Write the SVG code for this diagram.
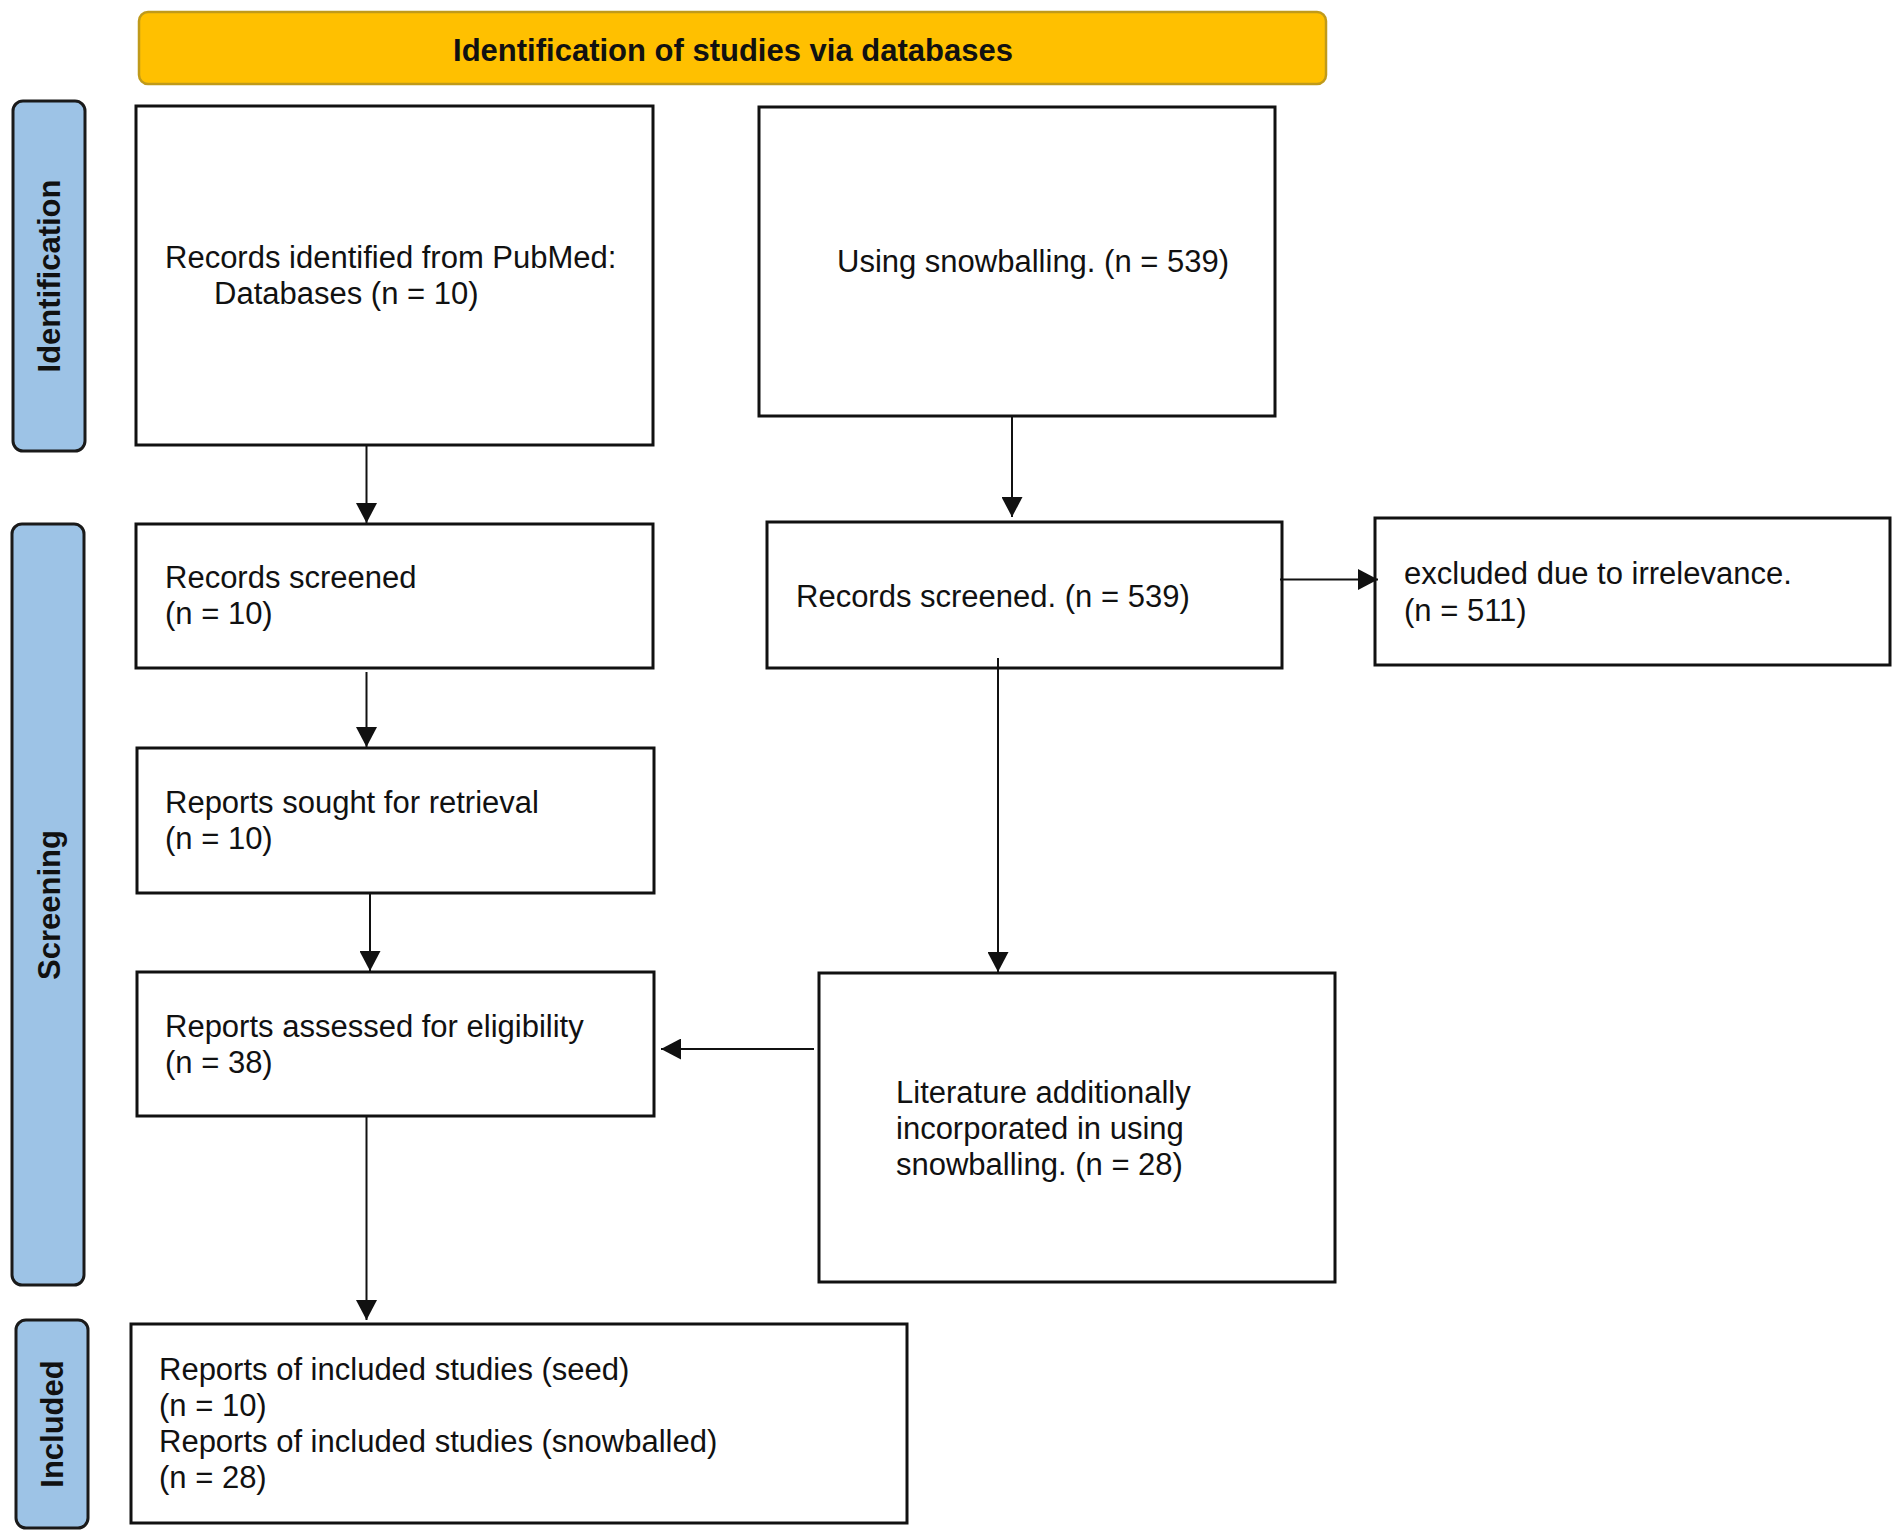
<svg xmlns="http://www.w3.org/2000/svg" width="1902" height="1540" viewBox="0 0 1902 1540">
<defs>
<style>
.box{fill:#fff;stroke:#111;stroke-width:3}
.side{fill:#9DC3E6;stroke:#1a1a1a;stroke-width:3}
.t{font-family:"Liberation Sans",Arial,sans-serif;font-size:31px;fill:#111}
.b{font-family:"Liberation Sans",Arial,sans-serif;font-size:31px;font-weight:bold;fill:#111}
.c{stroke:#111;stroke-width:2;fill:none}
</style>
<marker id="ah" markerUnits="userSpaceOnUse" markerWidth="20" markerHeight="21" refX="20" refY="10.5" orient="auto">
<path d="M0,0 L20,10.5 L0,21 z" fill="#111"/>
</marker>
</defs>
<rect width="1902" height="1540" fill="#fff"/>
<g id="banner">
<rect x="139" y="12" width="1187" height="72" rx="9" fill="#FFC000" stroke="#C09A1A" stroke-width="2.5"/>
<text class="b" x="733" y="61" text-anchor="middle">Identification of studies via databases</text>
</g>
<g id="side-identification">
<rect class="side" x="13" y="101" width="72" height="350" rx="10"/>
<text class="b" transform="translate(60,276) rotate(-90)" text-anchor="middle">Identification</text>
</g>
<g id="side-screening">
<rect class="side" x="12" y="524" width="72" height="761" rx="10"/>
<text class="b" transform="translate(60,905) rotate(-90)" text-anchor="middle">Screening</text>
</g>
<g id="side-included">
<rect class="side" x="16" y="1320" width="72" height="208" rx="10"/>
<text class="b" transform="translate(63,1424) rotate(-90)" text-anchor="middle">Included</text>
</g>
<g id="n-records-identified">
<rect class="box" x="136" y="106" width="517" height="339"/>
<text class="t" x="165" y="268">Records identified from PubMed:</text>
<text class="t" x="214" y="304">Databases (n = 10)</text>
</g>
<g id="n-snowballing">
<rect class="box" x="759" y="107" width="516" height="309"/>
<text class="t" x="837" y="272">Using snowballing. (n = 539)</text>
</g>
<g id="n-screened-539">
<rect class="box" x="767" y="522" width="515" height="146"/>
<text class="t" x="796" y="607">Records screened. (n = 539)</text>
</g>
<g id="n-excluded">
<rect class="box" x="1375" y="518" width="515" height="147"/>
<text class="t" x="1404" y="584">excluded due to irrelevance.</text>
<text class="t" x="1404" y="621">(n = 511)</text>
</g>
<g id="n-screened-10">
<rect class="box" x="136" y="524" width="517" height="144"/>
<text class="t" x="165" y="588">Records screened</text>
<text class="t" x="165" y="624">(n = 10)</text>
</g>
<g id="n-sought">
<rect class="box" x="137" y="748" width="517" height="145"/>
<text class="t" x="165" y="813">Reports sought for retrieval</text>
<text class="t" x="165" y="849">(n = 10)</text>
</g>
<g id="n-assessed">
<rect class="box" x="137" y="972" width="517" height="144"/>
<text class="t" x="165" y="1037">Reports assessed for eligibility</text>
<text class="t" x="165" y="1073">(n = 38)</text>
</g>
<g id="n-literature">
<rect class="box" x="819" y="973" width="516" height="309"/>
<text class="t" x="896" y="1103">Literature additionally</text>
<text class="t" x="896" y="1139">incorporated in using</text>
<text class="t" x="896" y="1175">snowballing. (n = 28)</text>
</g>
<g id="n-included">
<rect class="box" x="131" y="1324" width="776" height="199"/>
<text class="t" x="159" y="1380">Reports of included studies (seed)</text>
<text class="t" x="159" y="1416">(n = 10)</text>
<text class="t" x="159" y="1452">Reports of included studies (snowballed)</text>
<text class="t" x="159" y="1488">(n = 28)</text>
</g>
<g id="connectors">
<line class="c" x1="366.5" y1="446" x2="366.5" y2="523" marker-end="url(#ah)"/>
<line class="c" x1="366.5" y1="672" x2="366.5" y2="747" marker-end="url(#ah)"/>
<line class="c" x1="370" y1="894" x2="370" y2="971" marker-end="url(#ah)"/>
<line class="c" x1="366.5" y1="1117" x2="366.5" y2="1320" marker-end="url(#ah)"/>
<line class="c" x1="1012" y1="417" x2="1012" y2="517" marker-end="url(#ah)"/>
<line class="c" x1="1280" y1="579.5" x2="1378" y2="579.5" marker-end="url(#ah)"/>
<line class="c" x1="998" y1="658" x2="998" y2="972" marker-end="url(#ah)"/>
<line class="c" x1="814" y1="1049" x2="661" y2="1049" marker-end="url(#ah)"/>
</g>
</svg>
